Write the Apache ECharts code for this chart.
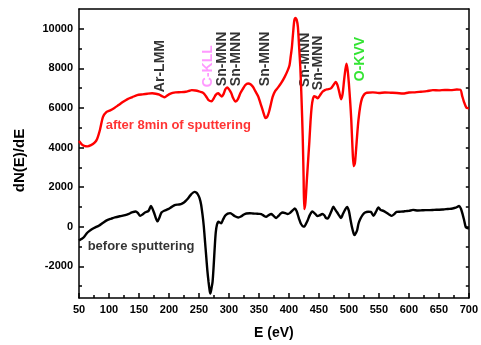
<!DOCTYPE html>
<html>
<head>
<meta charset="utf-8">
<script src="https://cdn.jsdelivr.net/npm/echarts@6/dist/echarts.min.js"></script>
<style>
  html, body { margin: 0; padding: 0; background: #fff; }
  #chart { width: 481px; height: 345px; }
</style>
</head>
<body>
<div id="chart"></div>
<script>
// Auger spectra, derivative mode: [energy (eV), dN(E)/dE]
const afterSputtering = [
  [50, 4330], [55, 4150], [60, 4070], [64, 4060], [70, 4120], [76, 4250], [80, 4420], [85, 4900],
  [90, 5550], [96, 5800], [102, 5880], [109, 6000], [116, 6150], [123, 6300], [131, 6450], [139, 6550],
  [147, 6650], [156, 6690], [164, 6720], [172, 6740], [178, 6720], [184, 6680], [188, 6600], [192, 6540],
  [196, 6600], [200, 6690], [206, 6760], [211, 6790], [220, 6800], [228, 6820], [234, 6870], [238, 6900],
  [244, 6880], [250, 6840], [254, 6800], [258, 6740], [262, 6580], [266, 6400], [271, 6340], [275, 6500],
  [278, 6660], [282, 6740], [285, 6660], [288, 6580], [291, 6700], [294, 6940], [297, 7040], [300, 6950],
  [304, 6740], [307, 6500], [311, 6320], [315, 6450], [319, 6740], [323, 6950], [327, 7150], [332, 7240],
  [336, 7200], [340, 7070], [344, 6850], [349, 6570], [353, 6200], [357, 5820], [361, 5490], [364, 5560],
  [367, 5820], [370, 6200], [373, 6570], [377, 6850], [382, 7040], [387, 7250], [393, 7570], [398, 7900],
  [401, 8160], [403, 8600], [405, 9080], [407, 9800], [409, 10420], [411, 10550], [413, 10450], [415, 10100],
  [417, 9100], [419, 8070], [421, 6500], [423, 4600], [424.5, 2500], [425.6, 890], [427.5, 1200], [430, 2400],
  [434, 4250], [436, 5300], [438, 6070], [440, 6450], [442, 6600], [445, 6560], [448, 6490], [452, 6650],
  [456, 6820], [460, 6900], [464, 6940], [470, 6990], [474, 7150], [478, 7320], [481, 7150], [484, 6800],
  [487, 6440], [489.5, 6700], [492, 7400], [494, 7900], [496, 8240], [498, 7900], [500, 7240], [502, 6400],
  [504, 5400], [506, 4000], [508, 3060], [510, 3200], [512, 3900], [514, 4700], [516, 5400], [519, 6100],
  [522, 6490], [526, 6700], [530, 6770], [540, 6790], [550, 6760], [560, 6780], [570, 6770], [580, 6760],
  [590, 6730], [600, 6780], [610, 6790], [620, 6820], [630, 6850], [640, 6900], [650, 6890], [660, 6910],
  [670, 6900], [680, 6930], [686, 6920], [689, 6600], [692, 6300], [695, 6070], [698, 5990], [700, 6000]
];

const beforeSputtering = [
  [50, -700], [54, -620], [58, -530], [63, -330], [67, -220], [72, -115], [78, -20], [83, 50],
  [90, 200], [97, 335], [104, 410], [110, 470], [118, 530], [127, 590], [133, 650], [138, 720],
  [144.6, 770], [148, 700], [152, 550], [156, 620], [160, 720], [166, 800], [170, 1050], [172, 950],
  [175, 720], [178, 450], [181, 270], [184, 450], [187.5, 720], [193, 820], [198.5, 890], [204, 990],
  [209.5, 1090], [215, 1120], [220, 1140], [225, 1220], [229, 1340], [233, 1480], [237, 1640], [242.5, 1760],
  [246, 1720], [248, 1640], [251, 1450], [253.5, 1140], [256, 600], [258, 50], [260, -700], [262, -1450],
  [264, -2200], [266, -2790], [268, -3250], [269, -3375], [271, -3100], [272.7, -2790], [274.5, -2000], [276.5, -950],
  [278, -300], [280, 100], [282.6, 250], [285, 210], [287, 170], [290, 350], [293.6, 550], [298, 660],
  [302, 690], [306, 620], [310, 530], [315.6, 470], [320, 520], [325, 620], [329, 670], [335, 680],
  [340, 670], [345, 660], [350, 650], [354, 640], [358, 560], [362, 500], [366, 580], [370.5, 640],
  [374, 560], [378.8, 440], [383, 560], [386, 660], [389.8, 720], [394, 690], [398, 640], [402, 700],
  [406, 820], [410, 920], [413, 780], [417, 390], [420, 150], [424, 10], [426, 20], [428, 120],
  [431, 300], [435, 600], [439, 770], [443, 680], [447.6, 540], [451, 570], [455.8, 640], [459, 580],
  [462, 440], [465, 420], [467, 520], [471, 800], [474, 1010], [477, 880], [480.6, 720], [484, 560],
  [487, 440], [490, 640], [494, 880], [497, 1000], [500, 800], [502.5, 390], [505, 0], [508, -350],
  [509.5, -420], [512, -300], [514, -150], [516, 150], [519, 390], [523, 600], [527, 720], [532, 760],
  [536.6, 750], [541, 550], [545, 750], [549.3, 970], [553, 850], [557.6, 800], [562, 720], [567, 620],
  [571.3, 550], [576, 650], [579.5, 750], [585, 760], [590.5, 770], [595, 790], [600, 800], [607, 850],
  [615, 820], [622, 830], [628, 840], [635, 840], [642, 850], [650, 860], [656, 870], [662, 890],
  [668, 900], [673, 920], [678, 960], [684, 1050], [687, 900], [689.6, 640], [692, 350], [695, -30],
  [698, -70], [700, -80]
];

// Peak assignments: [energy, anchor value, text]
const peakLabels = [
  [186, 6800, 'Ar-LMM'],
  [264.5, 7050, 'C-KLL'],
  [289, 7100, 'Sn-MNN'],
  [312, 7100, 'Sn-MNN'],
  [360, 7100, 'Sn-MNN'],
  [427, 7050, 'Sn-MNN'],
  [449, 6900, 'Sn-MNN'],
  [518, 7350, 'O-KVV']
];
const peakColors = {
  'C-KLL': '#ff80ff',
  'O-KVV': '#00dd00'
};

// Curve captions: [energy, value, text, colour]
const curveCaptions = [
  [94.5, 5100, 'after 8min of sputtering', '#ff0000'],
  [64.4, -1000, 'before sputtering', '#000000']
];

const xTicks = [50, 100, 150, 200, 250, 300, 350, 400, 450, 500, 550, 600, 650, 700];
const xMinorTicks = [75, 125, 175, 225, 275, 325, 375, 425, 475, 525, 575, 625, 675];
const yLabelTicks = [-2000, 0, 2000, 4000, 6000, 8000, 10000];
const yMinorTicks = [-3000, -1000, 1000, 3000, 5000, 7000, 9000];
const yAllTicks = [-3000, -2000, -1000, 0, 1000, 2000, 3000, 4000, 5000, 6000, 7000, 8000, 9000, 10000];

const FONT = 'Liberation Sans, Arial, sans-serif';
const Y_MIN = -3600, Y_MAX = 11000;

const chart = echarts.init(document.getElementById('chart'), null, { renderer: 'canvas' });

const axisLineStyle = { color: '#000', width: 1.5 };
const tickStyle = { color: '#000', width: 1.5 };
const plainNumber = v => String(v);

chart.setOption({
  animation: false,
  backgroundColor: '#fff',
  grid: { left: 79, right: 8, top: 9, bottom: 46 },
  xAxis: [
    {
      type: 'value', min: 50, max: 700, position: 'bottom',
      name: 'E (eV)', nameLocation: 'middle', nameGap: 28,
      nameTextStyle: { fontFamily: FONT, fontWeight: 'bold', fontSize: 14, color: '#000' },
      axisLine: { show: true, onZero: false, lineStyle: axisLineStyle },
      axisTick: { show: true, inside: true, length: 5, customValues: xTicks, lineStyle: tickStyle },
      axisLabel: {
        customValues: xTicks, formatter: plainNumber,
        fontFamily: FONT, fontWeight: 'bold', fontSize: 11, color: '#000', margin: 6
      },
      splitLine: { show: false }
    },
    {
      type: 'value', min: 50, max: 700, position: 'bottom',
      axisLine: { show: false, onZero: false },
      axisTick: { show: true, inside: true, length: 3, customValues: xMinorTicks, lineStyle: tickStyle },
      axisLabel: { show: false }, splitLine: { show: false }
    },
    {
      type: 'value', min: 50, max: 700, position: 'top',
      axisLine: { show: true, onZero: false, lineStyle: axisLineStyle },
      axisTick: { show: false }, axisLabel: { show: false }, splitLine: { show: false }
    }
  ],
  yAxis: [
    {
      type: 'value', min: Y_MIN, max: Y_MAX, position: 'left',
      name: 'dN(E)/dE', nameLocation: 'middle', nameGap: 52,
      nameTextStyle: { fontFamily: FONT, fontWeight: 'bold', fontSize: 15, color: '#000',
                       padding: [0, 14, 0, 0] },
      axisLine: { show: true, onZero: false, lineStyle: axisLineStyle },
      axisTick: { show: true, inside: true, length: 5, customValues: yLabelTicks, lineStyle: tickStyle },
      axisLabel: {
        customValues: yLabelTicks, formatter: plainNumber,
        fontFamily: FONT, fontWeight: 'bold', fontSize: 11, color: '#000', margin: 6
      },
      splitLine: { show: false }
    },
    {
      type: 'value', min: Y_MIN, max: Y_MAX, position: 'left',
      axisLine: { show: false, onZero: false },
      axisTick: { show: true, inside: true, length: 3, customValues: yMinorTicks, lineStyle: tickStyle },
      axisLabel: { show: false }, splitLine: { show: false }
    },
    {
      type: 'value', min: Y_MIN, max: Y_MAX, position: 'right',
      axisLine: { show: true, onZero: false, lineStyle: axisLineStyle },
      axisTick: { show: true, inside: true, length: 3, customValues: yAllTicks, lineStyle: tickStyle },
      axisLabel: { show: false }, splitLine: { show: false }
    }
  ],
  series: [
    {
      name: 'before sputtering', type: 'line', data: beforeSputtering,
      showSymbol: false, smooth: 0.25,
      lineStyle: { color: '#000', width: 2.4 }
    },
    {
      name: 'after 8min of sputtering', type: 'line', data: afterSputtering,
      showSymbol: false, smooth: 0.25,
      lineStyle: { color: '#ff0000', width: 2.4 }
    },
    {
      name: 'peaks', type: 'scatter', symbolSize: 0, silent: true,
      data: peakLabels.map(p => ({
        value: [p[0], p[1]],
        label: {
          show: true, formatter: p[2], rotate: 90, position: [0, 0],
          align: 'left', verticalAlign: 'middle',
          fontFamily: FONT, fontWeight: 'bold', fontSize: 14,
          color: peakColors[p[2]] || '#000'
        }
      }))
    },
    {
      name: 'captions', type: 'scatter', symbolSize: 0, silent: true,
      data: curveCaptions.map(c => ({
        value: [c[0], c[1]],
        label: {
          show: true, formatter: c[2], position: [0, 0],
          align: 'left', verticalAlign: 'middle',
          fontFamily: FONT, fontWeight: 'bold', fontSize: 13, color: c[3]
        }
      }))
    }
  ]
});
</script>
</body>
</html>
